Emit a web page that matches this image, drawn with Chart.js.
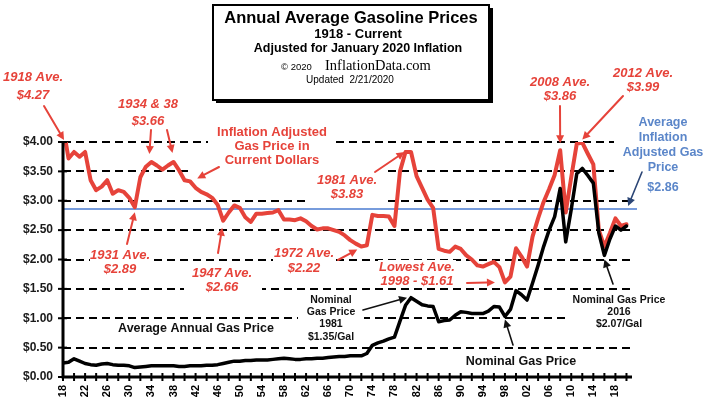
<!DOCTYPE html>
<html><head><meta charset="utf-8">
<script src="https://cdn.jsdelivr.net/npm/chart.js@4.4.1/dist/chart.umd.min.js"></script>
<style>html,body{margin:0;padding:0;background:#fff}canvas{display:block}</style>
</head><body>
<canvas id="c" width="712" height="400"></canvas>
<script>
// ---------- DATA ----------
const years = [];
for (let y = 1918; y <= 2020; y++) years.push(y);

// Inflation adjusted average annual gas price (Jan 2020 dollars)
const adjustedPrice = [
  4.27, 3.72, 3.83, 3.75, 3.83, 3.35, 3.18, 3.24, 3.35, 3.12, // 1918-1927
  3.18, 3.15, 3.05, 2.89, 3.40, 3.58, 3.66, 3.60, 3.53, 3.60, // 1928-1937
  3.66, 3.52, 3.35, 3.33, 3.22, 3.15, 3.11, 3.05, 2.93, 2.66, // 1938-1947
  2.80, 2.92, 2.88, 2.72, 2.64, 2.78, 2.78, 2.79, 2.80, 2.84, // 1948-1957
  2.68, 2.68, 2.67, 2.70, 2.65, 2.57, 2.51, 2.53, 2.53, 2.50, // 1958-1967
  2.47, 2.41, 2.33, 2.27, 2.22, 2.24, 2.76, 2.74, 2.74, 2.73, // 1968-1977
  2.57, 3.50, 3.83, 3.83, 3.42, 3.22, 3.02, 2.88, 2.18, 2.15, // 1978-1987
  2.13, 2.22, 2.18, 2.07, 2.00, 1.90, 1.88, 1.92, 1.96, 1.87, // 1988-1997
  1.61, 1.71, 2.19, 2.05, 1.88, 2.39, 2.70, 2.98, 3.20, 3.44, // 1998-2007
  3.86, 2.80, 3.40, 3.97, 3.99, 3.80, 3.62, 2.50, 2.22, 2.45, // 2008-2017
  2.70, 2.57, 2.60                                            // 2018-2020
];

// Nominal average annual gas price
const nominalPrice = [
  0.24, 0.25, 0.31, 0.27, 0.23, 0.21, 0.20, 0.22, 0.23, 0.21, // 1918-1927
  0.20, 0.20, 0.19, 0.16, 0.17, 0.18, 0.19, 0.19, 0.19, 0.19, // 1928-1937
  0.19, 0.18, 0.18, 0.19, 0.19, 0.19, 0.20, 0.20, 0.21, 0.23, // 1938-1947
  0.25, 0.27, 0.27, 0.28, 0.28, 0.29, 0.29, 0.29, 0.30, 0.31, // 1948-1957
  0.32, 0.31, 0.30, 0.30, 0.31, 0.31, 0.32, 0.32, 0.33, 0.34, // 1958-1967
  0.35, 0.35, 0.36, 0.36, 0.36, 0.40, 0.54, 0.58, 0.61, 0.65, // 1968-1977
  0.68, 0.95, 1.22, 1.35, 1.29, 1.23, 1.21, 1.20, 0.94, 0.96, // 1978-1987
  0.97, 1.05, 1.11, 1.10, 1.08, 1.08, 1.08, 1.12, 1.20, 1.19, // 1988-1997
  1.03, 1.15, 1.47, 1.40, 1.31, 1.60, 1.90, 2.22, 2.50, 2.73, // 1998-2007
  3.21, 2.30, 2.85, 3.46, 3.55, 3.43, 3.30, 2.45, 2.07, 2.35, // 2008-2017
  2.57, 2.50, 2.57                                            // 2018-2020
];

const xLabelYears = [1918,1922,1926,1930,1934,1938,1942,1946,1950,1954,1958,1962,1966,
                     1970,1974,1978,1982,1986,1990,1994,1998,2002,2006,2010,2014,2018];
const averageAdjustedPrice = 2.86;

// ---------- STYLE / LAYOUT ----------
const RED = '#e6433a', BLUE_LINE = '#4a7bd0', BLUE_TEXT = '#5b86c9', NAVY = '#2b4575';
const SANS = '"Liberation Sans", Arial, sans-serif';
const SERIF = '"Liberation Serif", "Times New Roman", serif';

// white boxes behind annotation texts (they interrupt the dashed grid)
const maskBoxes = [
  [208,122,334,168],[193,168,334,176],[310,168,388,205],[90,246,150,277],
  [184,264,262,296],[273,244,336,277],[378,260,456,287],[298,292,364,343],
  [566,291,674,332],[114,321,278,338],[464,354,579,370],[614,114,712,196]
];

const RI = 'italic bold 13px ' + SANS;
const notes = [
  {lines:['1918 Ave.','$4.27'], x:33, y:77, lh:18, font:RI, color:RED},
  {lines:['1934 & 38','$3.66'], x:148, y:104, lh:17, font:RI, color:RED},
  {lines:['1931 Ave.','$2.89'], x:120, y:255, lh:14, font:RI, color:RED},
  {lines:['1947 Ave.','$2.66'], x:222, y:273, lh:14, font:RI, color:RED},
  {lines:['1972 Ave.','$2.22'], x:304, y:253, lh:15, font:RI, color:RED},
  {lines:['1981 Ave.','$3.83'], x:347, y:180, lh:14, font:RI, color:RED},
  {lines:['2008 Ave.','$3.86'], x:560, y:82, lh:14, font:RI, color:RED},
  {lines:['2012 Ave.','$3.99'], x:643, y:73, lh:14, font:RI, color:RED},
  {lines:['Lowest Ave.','1998 - $1.61'], x:417, y:267, lh:14, font:RI, color:RED},
  {lines:['Inflation Adjusted','Gas Price in','Current Dollars'], x:272, y:132, lh:14, font:'bold 13px ' + SANS, color:RED},
  {lines:['Average','Inflation','Adjusted Gas','Price'], x:663, y:123, lh:14.7, font:'bold 12.5px ' + SANS, color:BLUE_TEXT},
  {lines:['$2.86'], x:663, y:188, lh:14, font:'bold 12.5px ' + SANS, color:BLUE_TEXT},
  {lines:['Nominal','Gas Price','1981','$1.35/Gal'], x:331, y:300, lh:12.3, font:'bold 10.5px ' + SANS, color:'#111'},
  {lines:['Nominal Gas Price','2016','$2.07/Gal'], x:619, y:300, lh:12.2, font:'bold 10.5px ' + SANS, color:'#111'},
  {lines:['Average Annual Gas Price'], x:196, y:329, lh:14, font:'bold 12.5px ' + SANS, color:'#111'},
  {lines:['Nominal Gas Price'], x:521, y:362, lh:14, font:'bold 12.5px ' + SANS, color:'#111'}
];

// arrows: tail in pixels, tip anchored to a data position (+ small pixel offset)
const arrows = [
  {from:[44,106], year:1918, value:4.0, dx:1, dy:-2, color:RED, w:2},
  {from:[151,130], year:1934, value:3.66, dx:-2, dy:-8, color:RED, w:2},
  {from:[167,130], year:1938, value:3.66, dx:-1, dy:-9, color:RED, w:2},
  {from:[219,167], year:1942.3, value:3.38, dx:0, dy:0, color:RED, w:2},
  {from:[127,244], year:1931, value:2.89, dx:0, dy:5, color:RED, w:2},
  {from:[218,253], year:1947, value:2.66, dx:-1, dy:7, color:RED, w:2},
  {from:[338,260], year:1972, value:2.22, dx:-4, dy:3, color:RED, w:2},
  {from:[375,172], year:1980, value:3.83, dx:-1, dy:0, color:RED, w:2},
  {from:[560,106], year:2008, value:3.86, dx:0, dy:-7, color:RED, w:2},
  {from:[623,96], year:2012, value:3.99, dx:0, dy:-3, color:RED, w:2},
  {from:[467,283], year:1998, value:1.61, dx:-10, dy:0, color:RED, w:2},
  {from:[363,310], year:1981, value:1.35, dx:-4, dy:0, color:'#111', w:1.6},
  {from:[513,345], year:1998, value:1.03, dx:0, dy:3, color:'#111', w:1.6},
  {from:[613,284], year:2016, value:2.07, dx:0, dy:4, color:'#111', w:1.6},
  {from:[642,172], year:2020.3, value:averageAdjustedPrice, dx:0, dy:-3, color:NAVY, w:1.6}
];

function drawArrow(c, x1, y1, x2, y2, color, w) {
  const ang = Math.atan2(y2 - y1, x2 - x1), L = 8, W = 4;
  const bx = x2 - L * Math.cos(ang), by = y2 - L * Math.sin(ang);
  c.strokeStyle = color; c.fillStyle = color; c.lineWidth = w; c.lineCap = 'round';
  c.beginPath(); c.moveTo(x1, y1); c.lineTo(bx, by); c.stroke();
  c.beginPath(); c.moveTo(x2, y2);
  c.lineTo(bx + W * Math.sin(ang), by - W * Math.cos(ang));
  c.lineTo(bx - W * Math.sin(ang), by + W * Math.cos(ang));
  c.closePath(); c.fill();
}

const deco = {
  id: 'deco',
  beforeDraw(chart) {
    const c = chart.ctx; c.save(); c.fillStyle = '#fff'; c.fillRect(0, 0, chart.width, chart.height); c.restore();
  },
  beforeDatasetsDraw(chart) {
    const c = chart.ctx, a = chart.chartArea, ys = chart.scales.y;
    c.save();
    c.fillStyle = '#fff';
    for (const b of maskBoxes) c.fillRect(b[0], b[1], b[2] - b[0], b[3] - b[1]);
    const yy = ys.getPixelForValue(averageAdjustedPrice);
    c.strokeStyle = BLUE_LINE; c.lineWidth = 1.5;
    c.beginPath(); c.moveTo(a.left, yy); c.lineTo(a.right + 5, yy); c.stroke();
    c.restore();
  },
  afterDatasetsDraw(chart) {
    const c = chart.ctx, a = chart.chartArea, xs = chart.scales.x, ys = chart.scales.y;
    c.save();
    c.strokeStyle = '#000';
    c.lineWidth = 2;
    for (let yr = 1918; yr <= 2020; yr += 2) {
      const x = xs.getPixelForValue(yr);
      c.beginPath(); c.moveTo(x, a.bottom - 4); c.lineTo(x, a.bottom + 4); c.stroke();
    }
    for (let v = 0; v <= 4.0001; v += 0.5) {
      const y = ys.getPixelForValue(v);
      c.beginPath(); c.moveTo(a.left - 5, y); c.lineTo(a.left + 4, y); c.stroke();
    }
    c.lineWidth = 3;
    c.beginPath(); c.moveTo(a.left, a.top - 1); c.lineTo(a.left, a.bottom); c.lineTo(a.right, a.bottom); c.stroke();
    c.restore();
  },
  afterDraw(chart) {
    const c = chart.ctx, xs = chart.scales.x, ys = chart.scales.y;
    c.save();
    // title box
    c.fillStyle = '#000'; c.fillRect(216, 8, 277, 95);
    c.fillStyle = '#fff'; c.fillRect(213, 5, 276, 95);
    c.strokeStyle = '#000'; c.lineWidth = 2; c.strokeRect(213, 5, 276, 95);
    c.fillStyle = '#000'; c.textAlign = 'center'; c.textBaseline = 'middle';
    c.font = 'bold 16.5px ' + SANS; c.fillText('Annual Average Gasoline Prices', 351, 18);
    c.font = 'bold 13px ' + SANS; c.fillText('1918 - Current', 358, 34);
    c.font = 'bold 12.5px ' + SANS; c.fillText('Adjusted for January 2020 Inflation', 358, 49);
    c.textAlign = 'left'; c.textBaseline = 'alphabetic';
    c.font = '9.5px ' + SANS; c.fillText('\u00A9 2020', 281, 70);
    c.font = '14.5px ' + SERIF; c.fillText('InflationData.com', 325, 70);
    c.textAlign = 'center'; c.textBaseline = 'middle';
    c.font = '10px ' + SANS; c.fillText('Updated  2/21/2020', 350, 80);
    // annotation texts
    for (const n of notes) {
      c.font = n.font; c.fillStyle = n.color;
      n.lines.forEach((t, i) => c.fillText(t, n.x, n.y + i * n.lh));
    }
    // arrows
    for (const ar of arrows) {
      const tx = xs.getPixelForValue(ar.year) + ar.dx, ty = ys.getPixelForValue(ar.value) + ar.dy;
      drawArrow(c, ar.from[0], ar.from[1], tx, ty, ar.color, ar.w);
    }
    c.restore();
  }
};

new Chart(document.getElementById('c'), {
  type: 'line',
  data: {
    datasets: [
      {label: 'Nominal Gas Price', data: years.map((y, i) => ({x: y, y: nominalPrice[i]})),
       borderColor: '#000', borderWidth: 3.5, pointRadius: 0, tension: 0, order: 0,
       borderJoinStyle: 'round', borderCapStyle: 'round'},
      {label: 'Inflation Adjusted Gas Price', data: years.map((y, i) => ({x: y, y: adjustedPrice[i]})),
       borderColor: RED, borderWidth: 4, pointRadius: 0, tension: 0, order: 1,
       borderJoinStyle: 'round', borderCapStyle: 'round'}
    ]
  },
  options: {
    responsive: false, animation: false, devicePixelRatio: 1,
    layout: {padding: {top: 142, right: 80, bottom: 0, left: 0}},
    plugins: {legend: {display: false}, tooltip: {enabled: false}},
    scales: {
      x: {
        type: 'linear', min: 1918, max: 2021,
        afterBuildTicks: s => { s.ticks = xLabelYears.map(v => ({value: v})); },
        afterFit: s => { s.height = 23; },
        grid: {display: false, drawTicks: false, tickLength: 0},
        border: {display: false},
        ticks: {autoSkip: false, minRotation: 90, maxRotation: 90, padding: 8, color: '#000',
                font: {family: SANS, size: 11, weight: 'bold'},
                callback: v => String(v % 100).padStart(2, '0')}
      },
      y: {
        min: 0, max: 4,
        afterFit: s => { s.width = 63; },
        grid: {color: '#000', lineWidth: 2, drawTicks: false, tickLength: 0},
        border: {display: false, dash: [8, 5]},
        ticks: {stepSize: 0.5, padding: 10, color: '#1a1a1a',
                font: {family: SANS, size: 12, weight: 'bold'},
                callback: v => '$' + Number(v).toFixed(2)}
      }
    }
  },
  plugins: [deco]
});
</script>
</body></html>
